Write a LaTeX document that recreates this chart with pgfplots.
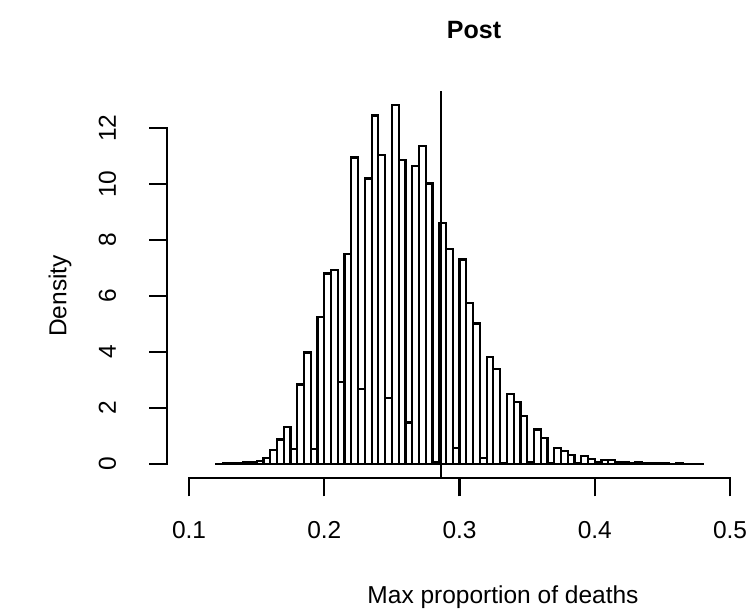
\documentclass[border=0pt]{standalone}
\usepackage{pgfplots}
\pgfplotsset{compat=1.18}
\usepackage{pgfplotstable}
\usepackage{fontspec}
\setmainfont{Liberation Sans}
\pgfplotstableread{
x y
0.120 0.01
0.125 0.02
0.130 0.02
0.135 0.03
0.140 0.05
0.145 0.06
0.150 0.10
0.155 0.22
0.160 0.51
0.165 0.87
0.170 1.31
0.175 0.52
0.180 2.84
0.185 3.98
0.190 0.52
0.195 5.26
0.200 6.80
0.205 6.93
0.210 2.93
0.215 7.51
0.220 10.95
0.225 2.69
0.230 10.20
0.235 12.45
0.240 11.04
0.245 2.35
0.250 12.83
0.255 10.86
0.260 1.48
0.265 10.64
0.270 11.36
0.275 10.02
0.280 0.08
0.285 8.60
0.290 7.67
0.295 0.56
0.300 7.30
0.305 5.76
0.310 5.02
0.315 0.22
0.320 3.81
0.325 3.38
0.330 0.04
0.335 2.51
0.340 2.22
0.345 1.71
0.350 0.05
0.355 1.23
0.360 0.92
0.365 0.03
0.370 0.57
0.375 0.47
0.380 0.32
0.385 0.02
0.390 0.27
0.395 0.18
0.400 0.06
0.405 0.15
0.410 0.13
0.415 0.07
0.420 0.05
0.425 0.04
0.430 0.05
0.435 0.03
0.440 0.02
0.445 0.03
0.450 0.02
0.455 0.01
0.460 0.02
0.465 0.01
0.470 0.01
0.475 0.01
0.480 0.01
}\histdata
\begin{document}
\begin{tikzpicture}[x=1pt,y=1pt]
\useasboundingbox (0,0) rectangle (753,-616);
\begin{axis}[
  at={(167.4pt,-478.3pt)}, anchor=south west,
  scale only axis, width=584.3pt, height=387.8pt,
  xmin=0.084, xmax=0.516, ymin=-0.513, ymax=13.34,
  axis x line*=bottom, axis y line*=left,
  axis line style={draw=none},
  xtick={0.1,0.2,0.3,0.4,0.5},
  xticklabels={0.1,0.2,0.3,0.4,0.5},
  ytick={0,2,4,6,8,10,12},
  yticklabels={0,2,4,6,8,10,12},
  tick align=outside, major tick length=18pt,
  tick style={black, line width=2.2pt},
  /pgf/number format/assume math mode=true,
  xticklabel style={font=\fontsize{24.5}{28}\selectfont, anchor=center, inner sep=0pt, yshift=-34pt},
  yticklabel style={font=\fontsize{24.5}{28}\selectfont, xshift=-42pt, rotate=90, anchor=center, inner sep=0pt},
  clip=false,
]
\addplot[ybar interval, draw=black, fill=none, line width=2.2pt] table[x=x,y=y] {\histdata};
\addplot[black, line width=2.2pt] coordinates {(0.286,-0.513) (0.286,13.34)};
\draw[line width=2.2pt, line cap=rect] (axis cs:0.1,-0.513) -- (axis cs:0.5,-0.513);
\draw[line width=2.2pt, line cap=rect] (axis cs:0.084,0) -- (axis cs:0.084,12);
\end{axis}
\node[font=\fontsize{25}{30}\selectfont\bfseries] at (474,-30) {Post};
\node[font=\fontsize{24.5}{28}\selectfont] at (503,-597) {Max proportion of deaths};
\node[font=\fontsize{24.5}{28}\selectfont, rotate=90] at (60,-296) {Density};
\end{tikzpicture}
\end{document}
